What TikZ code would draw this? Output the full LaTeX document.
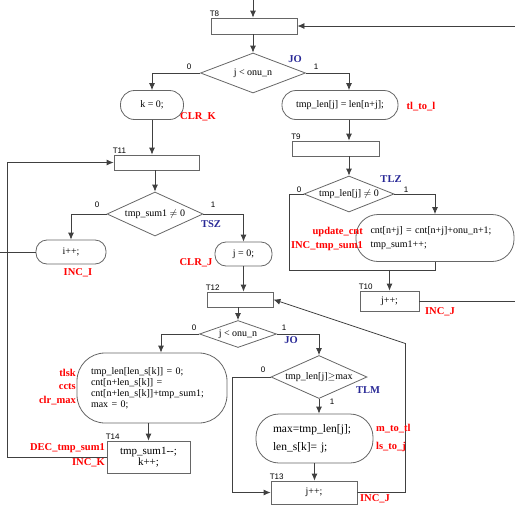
\documentclass[tikz,border=0pt]{standalone}
\usepackage{fontspec}
\setmainfont{Liberation Serif}
\newfontfamily\tagfont{Liberation Sans}
\usetikzlibrary{shapes.geometric,arrows.meta}
\definecolor{ctlblue}{RGB}{40,40,150}

\begin{document}
\begin{tikzpicture}[
		x=1pt, y=-1pt,
		box/.style={rectangle, draw=black!60, line width=0.8pt, inner sep=0pt, font=\fontsize{10}{10}\selectfont},
		term/.style={rectangle, draw=black!60, line width=0.8pt, rounded corners=#1, inner sep=0pt, font=\fontsize{10}{10}\selectfont},
		test/.style={diamond, draw=black!60, line width=0.8pt, inner sep=0pt, font=\fontsize{10}{10}\selectfont},
		arr/.style={draw=black!75, line width=0.8pt, -{Latex[length=7pt,width=6pt]}},
		wire/.style={draw=black!75, line width=0.8pt},
		tname/.style={anchor=south west, xshift=-2pt, inner sep=1pt, font=\tagfont\fontsize{8}{8}\selectfont},
		bit/.style={inner sep=0pt, font=\tagfont\fontsize{8}{8}\selectfont},
		sig/.style={inner sep=0pt, text=red, font=\bfseries\fontsize{10.5}{10.5}\selectfont},
		ctl/.style={inner sep=0pt, text=ctlblue, font=\bfseries\fontsize{10.5}{10.5}\selectfont}
		]
	\useasboundingbox (0,0) rectangle (515,509);

	% outer loop
	\node[box, minimum width=86pt, minimum height=16pt] (t8) at (254,26) {};
	\node[test, minimum width=105pt, minimum height=40pt, aspect=2.6] (jo1) at (253,73) {j < onu\_n};
	\node[term=14pt, minimum width=63pt, minimum height=29pt] (clrk) at (152,105) {k = 0;};
	\node[term=14pt, minimum width=116pt, minimum height=29pt] (tltol) at (340,105) {tmp\_len[j] = len[n+j];};
	\node[box, minimum width=87pt, minimum height=15pt] (t9) at (336,148.5) {};
	\node[test, minimum width=90pt, minimum height=36pt, aspect=2.5] (tlz) at (349,194) {tmp\_len[j] $\neq$ 0};
	\node[term=22pt, minimum width=158pt, minimum height=47pt, text width=129pt, inner xsep=14pt, align=left, font=\fontsize{10}{14}\selectfont] (upd) at (435,238) {cnt[n+j] = cnt[n+j]+onu\_n+1;\\tmp\_sum1++;};
	\node[box, minimum width=59pt, minimum height=20pt] (t10) at (389.5,301) {j++;};

	% inner loop
	\node[box, minimum width=85pt, minimum height=15pt] (t11) at (156.5,162.5) {};
	\node[test, minimum width=96pt, minimum height=44pt, aspect=2.2] (tsz) at (155,214) {tmp\_sum1 $\neq$ 0};
	\node[term=11pt, minimum width=70pt, minimum height=24pt] (inci) at (71,252) {i++;};
	\node[term=11pt, minimum width=57pt, minimum height=24pt] (clrj) at (243.5,254) {j = 0;};
	\node[box, minimum width=66pt, minimum height=15pt] (t12) at (240,299.5) {};
	\node[test, minimum width=77pt, minimum height=27pt, aspect=2.8] (jo2) at (238,334) {j < onu\_n};
	\node[term=28pt, minimum width=150pt, minimum height=70pt, text width=122pt, inner xsep=14pt, align=left, font=\fontsize{10}{11}\selectfont] (tlsk) at (152,388) {tmp\_len[len\_s[k]] = 0;\\cnt[n+len\_s[k]] =\\cnt[n+len\_s[k]]+tmp\_sum1;\\max = 0;};
	\node[box, minimum width=83pt, minimum height=32pt, align=center, font=\fontsize{11}{11}\selectfont] (t14) at (148.5,457) {tmp\_sum1{-}{-};\\k++;};
	\node[test, minimum width=96pt, minimum height=43pt, aspect=2.2] (tlm) at (319,377) {tmp\_len[j]$\geq$max};
	\node[term=23pt, minimum width=117pt, minimum height=49pt, text width=83pt, inner xsep=17pt, align=left, font=\fontsize{11.5}{18}\selectfont] (mtotl) at (314.5,438.5) {max=tmp\_len[j];\\len\_s[k]= j;};
	\node[box, minimum width=86pt, minimum height=23pt] (t13) at (314,492.5) {j++;};

	\node[tname] at (t8.north west) {T8};
	\node[tname] at (t9.north west) {T9};
	\node[tname] at (t10.north west) {T10};
	\node[tname] at (t11.north west) {T11};
	\node[tname] at (t12.north west) {T12};
	\node[tname] at (t13.north west) {T13};
	\node[tname] at (t14.north west) {T14};

	\coordinate (top8) at (253,0);
	\coordinate (back8) at (515,26);
	\coordinate (out10) at (515,301);
	\coordinate (outi) at (0,252);
	\coordinate (join10) at ([yshift=-8pt]upd.south);

	\draw[arr] (top8) -- (top8 |- t8.north);
	\draw[arr] (back8) -- (t8.east);
	\draw[arr] (jo1.north |- t8.south) -- (jo1.north);
	\draw[arr] (jo1.west) -| (clrk.north);
	\draw[arr] (jo1.east) -| ([xshift=9pt]tltol.north);
	\draw[arr] ([xshift=9pt]tltol.south) -- ([xshift=9pt]tltol.south |- t9.north);
	\draw[arr] (tlz.north |- t9.south) -- (tlz.north);
	\draw[arr] (tlz.east) -| (upd.north);
	\draw[wire] (tlz.west) -- ++(-14,0) |- (join10) -- (upd.south);
	\draw[arr] (t10.north |- join10) -- (t10.north);
	\draw[wire] (t10.east) -- (out10);
	\draw[arr] (clrk.south) -- (clrk.south |- t11.north);
	\draw[arr] (t14.west) -- ++(-99,0) |- (t11.west);
	\draw[arr] (tsz.north |- t11.south) -- (tsz.north);
	\draw[arr] (tsz.west) -| (inci.north);
	\draw[wire] (inci.west) -- (outi);
	\draw[arr] (tsz.east) -| (clrj.north);
	\draw[arr] (clrj.south) -- (clrj.south |- t12.north);
	\draw[arr] (jo2.north |- t12.south) -- (jo2.north);
	\draw[arr] (jo2.west) -| ([xshift=9pt]tlsk.north);
	\draw[arr] (t14.north |- tlsk.south) -- (t14.north);
	\draw[arr] (jo2.east) -| (tlm.north);
	\draw[arr] (tlm.south) -- (tlm.south |- mtotl.north);
	\draw[arr] (mtotl.south) -- (mtotl.south |- t13.north);
	\draw[arr] (tlm.west) -- ++(-38,0) |- (t13.west);
	\draw[arr] (t13.east) -- ++(48,0) -- ++(0,-149) -- (t12.east);

	\node[bit] at (189,67) {0};
	\node[bit] at (316,67) {1};
	\node[bit] at (97,205) {0};
	\node[bit] at (213,205) {1};
	\node[bit] at (299,190) {0};
	\node[bit] at (406,190) {1};
	\node[bit] at (194,328) {0};
	\node[bit] at (284,328) {1};
	\node[bit] at (263,370) {0};
	\node[bit] at (332,402) {1};

	\node[ctl] at (295,59) {JO};
	\node[ctl] at (211,224) {TSZ};
	\node[ctl] at (391,179) {TLZ};
	\node[ctl] at (291,340) {JO};
	\node[ctl] at (368,390) {TLM};

	\node[sig] at (198,117) {CLR\_K};
	\node[sig] at (421,107) {tl\_to\_l};
	\node[sig] at (196,263) {CLR\_J};
	\node[sig] at (78,273) {INC\_I};
	\node[sig, anchor=east] at (363,232) {update\_cnt};
	\node[sig, anchor=east] at (363,246) {INC\_tmp\_sum1};
	\node[sig] at (440,312) {INC\_J};
	\node[sig, anchor=east] at (76,373) {tlsk};
	\node[sig, anchor=east] at (76,387) {ccts};
	\node[sig, anchor=east] at (76,401) {clr\_max};
	\node[sig, anchor=east] at (105,448) {DEC\_tmp\_sum1};
	\node[sig, anchor=east] at (105,463) {INC\_K};
	\node[sig, anchor=west] at (376,429) {m\_to\_tl};
	\node[sig, anchor=west] at (376,447) {ls\_to\_j};
	\node[sig] at (375,499) {INC\_J};
\end{tikzpicture}
\end{document}
